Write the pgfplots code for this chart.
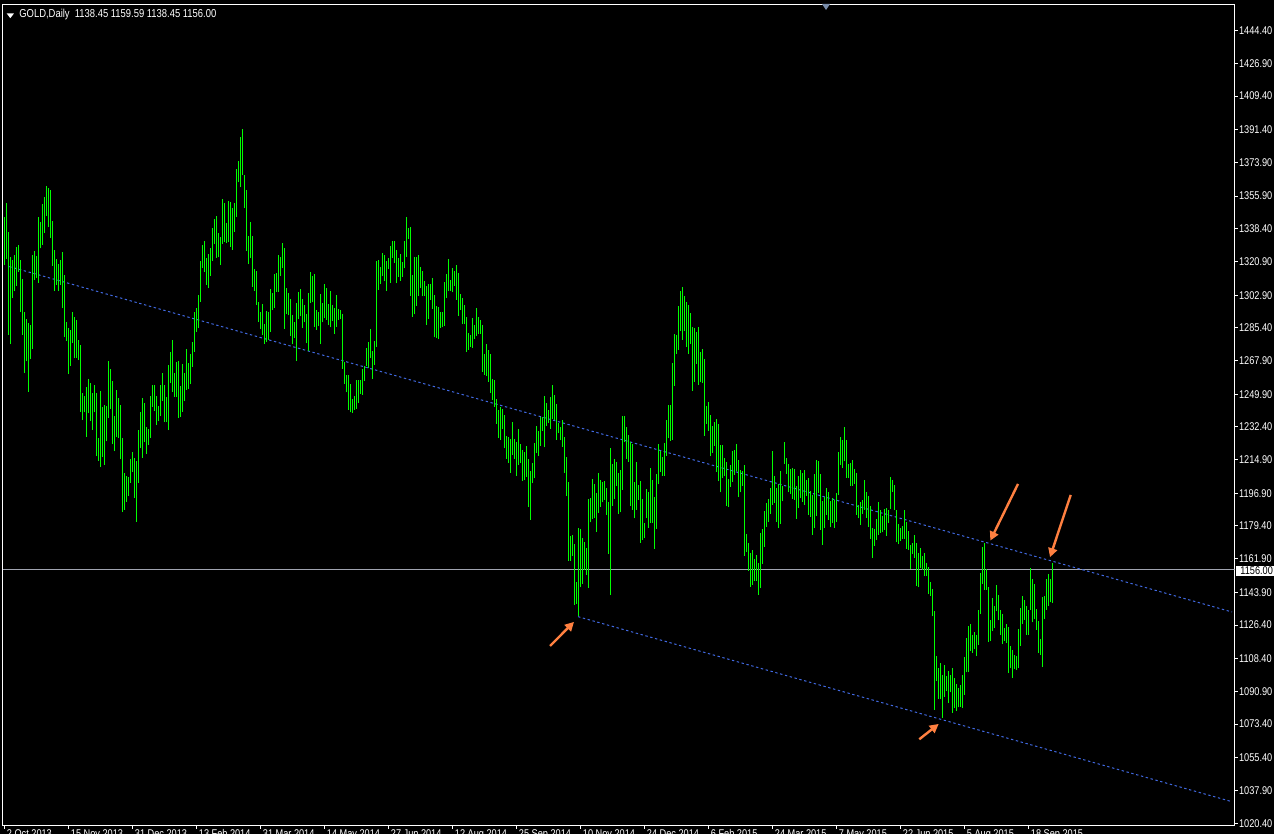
\documentclass[border=0pt]{standalone}
\usepackage{pgfplots}
\usepackage{pgfplotstable}
\pgfplotsset{compat=1.18}
\usetikzlibrary{arrows.meta}
\usepackage{fontspec}
\newfontfamily\mt{Liberation Sans}[FakeStretch=0.82]
\newcommand{\mtf}{\mt\fontsize{5.6pt}{6pt}\selectfont}
\newcommand{\mttf}{\mt\fontsize{5.75pt}{6pt}\selectfont}
\definecolor{mtgreen}{RGB}{0,255,0}
\definecolor{mtblue}{RGB}{65,105,225}
\definecolor{mtorange}{RGB}{255,128,64}
\definecolor{mtgray}{RGB}{160,164,176}
\definecolor{mtmark}{RGB}{120,140,170}

% daily bars: index, high, low
\pgfplotstableread{
i h l
0 1344.5 1319.2
1 1352.2 1322.2
2 1336.8 1281.6
3 1323.5 1276.7
4 1321.9 1301.3
5 1324.5 1305.1
6 1328.8 1307.9
7 1329.7 1315.4
8 1321.7 1294.0
9 1311.5 1281.6
10 1294.0 1261.2
11 1290.1 1267.5
12 1288.0 1251.2
13 1286.9 1268.7
14 1324.5 1274.1
15 1326.5 1311.0
16 1324.0 1311.9
17 1344.9 1309.5
18 1342.2 1327.9
19 1351.6 1329.7
20 1355.4 1336.1
21 1361.4 1345.4
22 1360.2 1339.5
23 1359.1 1333.6
24 1342.7 1318.6
25 1327.0 1305.1
26 1322.2 1308.5
27 1319.5 1305.1
28 1321.9 1308.5
29 1326.0 1296.0
30 1313.7 1280.5
31 1288.5 1278.3
32 1285.3 1260.7
33 1284.2 1265.0
34 1293.9 1277.3
35 1291.2 1269.1
36 1289.6 1269.2
37 1278.9 1268.2
38 1276.2 1240.4
39 1250.5 1236.1
40 1248.9 1240.2
41 1253.7 1227.2
42 1258.0 1239.8
43 1255.9 1235.5
44 1250.5 1230.9
45 1254.8 1240.2
46 1250.5 1216.8
47 1226.5 1214.3
48 1251.6 1211.1
49 1243.0 1216.3
50 1244.1 1212.2
51 1243.6 1224.7
52 1267.6 1237.2
53 1263.4 1242.0
54 1256.9 1223.2
55 1238.2 1219.5
56 1252.1 1227.0
57 1247.9 1226.6
58 1244.1 1215.2
59 1226.5 1187.0
60 1207.7 1188.1
61 1206.1 1192.4
62 1205.6 1195.6
63 1215.2 1202.6
64 1219.0 1208.4
65 1215.8 1194.4
66 1214.1 1181.7
67 1230.7 1202.6
68 1240.4 1221.1
69 1247.9 1215.8
70 1245.2 1224.3
71 1232.3 1217.9
72 1231.3 1222.9
73 1248.9 1226.5
74 1254.8 1243.0
75 1254.8 1240.9
76 1248.9 1233.4
77 1243.6 1235.5
78 1254.8 1238.2
79 1261.2 1246.2
80 1254.8 1235.0
81 1248.6 1235.0
82 1265.5 1230.7
83 1272.5 1255.9
84 1278.9 1251.2
85 1261.2 1248.4
86 1267.1 1248.4
87 1267.6 1237.3
88 1254.4 1237.9
89 1266.0 1240.4
90 1261.2 1246.2
91 1274.1 1252.1
92 1266.6 1252.7
93 1271.4 1255.3
94 1277.8 1264.4
95 1293.9 1272.6
96 1296.0 1283.2
97 1303.0 1285.3
98 1321.1 1299.4
99 1329.7 1317.4
100 1331.8 1315.3
101 1322.7 1308.3
102 1324.9 1306.7
103 1328.1 1313.3
104 1338.8 1321.3
105 1343.6 1330.2
106 1345.2 1322.9
107 1336.1 1323.3
108 1333.8 1319.2
109 1354.5 1330.2
110 1352.3 1331.5
111 1341.6 1330.8
112 1353.4 1331.1
113 1352.7 1328.6
114 1349.7 1327.2
115 1352.3 1336.7
116 1370.4 1344.7
117 1374.6 1363.2
118 1387.5 1360.7
119 1391.8 1367.0
120 1367.1 1349.5
121 1359.3 1326.5
122 1334.7 1319.5
123 1342.0 1322.7
124 1334.7 1307.2
125 1316.9 1305.3
126 1315.8 1297.6
127 1299.2 1288.5
128 1293.9 1284.8
129 1298.1 1281.6
130 1287.4 1276.7
131 1294.4 1277.8
132 1294.0 1279.1
133 1306.2 1283.2
134 1304.0 1294.9
135 1314.2 1296.2
136 1314.7 1304.7
137 1324.4 1304.6
138 1323.5 1313.1
139 1330.8 1317.4
140 1328.1 1284.8
141 1306.7 1292.8
142 1304.0 1292.1
143 1300.8 1281.0
144 1292.3 1276.7
145 1288.5 1280.0
146 1298.7 1267.8
147 1304.4 1290.1
148 1306.2 1291.5
149 1300.8 1285.3
150 1297.6 1288.3
151 1292.8 1277.1
152 1304.0 1273.0
153 1315.3 1298.7
154 1312.9 1299.0
155 1314.2 1286.0
156 1294.9 1284.4
157 1293.7 1286.4
158 1303.5 1276.7
159 1298.5 1288.3
160 1308.8 1290.5
161 1306.5 1289.8
162 1298.1 1286.9
163 1305.1 1285.6
164 1297.6 1289.0
165 1295.8 1282.3
166 1302.9 1286.0
167 1295.5 1289.8
168 1294.9 1290.1
169 1292.8 1263.5
170 1266.9 1255.5
171 1260.2 1250.9
172 1260.2 1241.6
173 1255.3 1240.2
174 1247.3 1240.0
175 1248.7 1241.6
176 1257.5 1242.0
177 1257.5 1245.3
178 1257.5 1250.2
179 1263.4 1249.6
180 1265.1 1257.1
181 1274.6 1265.1
182 1277.8 1263.7
183 1284.8 1269.2
184 1273.0 1258.2
185 1278.3 1265.7
186 1321.3 1275.3
187 1321.7 1305.8
188 1317.9 1308.8
189 1325.4 1312.9
190 1324.3 1310.4
191 1321.1 1305.3
192 1322.6 1317.0
193 1329.2 1309.4
194 1331.8 1322.9
195 1331.8 1320.1
196 1327.0 1309.2
197 1322.7 1312.8
198 1324.9 1310.6
199 1320.6 1312.6
200 1331.8 1317.2
201 1344.7 1323.5
202 1338.8 1333.1
203 1339.3 1302.6
204 1313.6 1291.4
205 1323.3 1292.6
206 1323.3 1297.2
207 1324.3 1302.6
208 1317.9 1306.7
209 1315.8 1302.2
210 1310.6 1302.4
211 1307.9 1286.9
212 1308.7 1290.3
213 1309.0 1300.5
214 1312.0 1295.5
215 1302.9 1280.3
216 1296.9 1279.9
217 1296.5 1279.4
218 1294.0 1285.5
219 1294.0 1285.7
220 1309.7 1286.4
221 1314.4 1301.3
222 1322.2 1305.1
223 1311.2 1305.1
224 1317.4 1304.4
225 1316.0 1307.8
226 1319.0 1300.5
227 1314.7 1291.9
228 1303.5 1295.1
229 1301.3 1287.4
230 1297.6 1287.4
231 1291.4 1272.6
232 1282.6 1273.7
233 1281.4 1275.1
234 1290.8 1274.8
235 1286.9 1279.4
236 1296.0 1281.2
237 1291.4 1282.1
238 1289.8 1282.3
239 1286.9 1261.9
240 1271.6 1260.3
241 1276.6 1259.8
242 1273.5 1256.6
243 1271.4 1250.7
244 1258.0 1246.8
245 1257.5 1243.2
246 1247.5 1234.1
247 1241.6 1226.4
248 1243.2 1225.6
249 1242.0 1231.4
250 1238.8 1220.9
251 1227.7 1215.4
252 1227.2 1213.3
253 1225.9 1207.9
254 1235.2 1217.4
255 1225.9 1215.2
256 1224.1 1206.3
257 1231.4 1212.2
258 1223.2 1213.1
259 1220.2 1203.6
260 1219.1 1204.0
261 1222.3 1205.8
262 1215.2 1189.7
263 1209.0 1182.8
264 1213.1 1202.4
265 1224.0 1204.9
266 1232.7 1218.4
267 1230.0 1217.0
268 1237.7 1222.2
269 1237.5 1230.4
270 1249.1 1221.5
271 1245.4 1232.9
272 1241.4 1234.7
273 1248.4 1231.3
274 1255.0 1236.6
275 1249.5 1236.1
276 1244.6 1225.6
277 1234.5 1229.1
278 1232.3 1225.2
279 1236.1 1221.8
280 1226.8 1207.9
281 1216.3 1195.6
282 1202.9 1160.8
283 1174.2 1160.8
284 1174.6 1163.5
285 1169.7 1137.3
286 1149.4 1137.8
287 1178.3 1131.4
288 1177.8 1146.6
289 1173.0 1148.3
290 1171.0 1156.0
291 1167.6 1153.3
292 1194.0 1146.4
293 1194.4 1181.3
294 1204.5 1183.1
295 1201.8 1183.7
296 1197.1 1176.4
297 1207.8 1186.6
298 1204.2 1189.8
299 1202.8 1192.1
300 1203.3 1193.5
301 1199.9 1185.5
302 1192.3 1164.6
303 1221.0 1142.7
304 1212.6 1190.3
305 1215.3 1193.9
306 1213.5 1200.8
307 1207.8 1186.0
308 1209.2 1186.7
309 1238.3 1198.9
310 1238.3 1224.2
311 1232.4 1215.3
312 1228.1 1213.8
313 1224.2 1190.3
314 1223.3 1188.2
315 1202.8 1183.5
316 1213.7 1188.2
317 1201.5 1193.5
318 1203.5 1170.5
319 1193.9 1172.1
320 1181.0 1172.8
321 1199.2 1183.5
322 1197.4 1178.5
323 1210.3 1181.2
324 1204.2 1181.2
325 1194.9 1167.3
326 1207.2 1178.0
327 1223.3 1201.7
328 1219.5 1208.3
329 1216.3 1206.3
330 1223.8 1206.3
331 1236.1 1217.0
332 1244.2 1226.3
333 1244.2 1225.1
334 1266.6 1225.6
335 1282.1 1254.5
336 1281.6 1271.6
337 1297.1 1273.8
338 1305.1 1283.9
339 1307.3 1279.1
340 1302.5 1283.7
341 1299.4 1275.2
342 1297.6 1271.6
343 1293.4 1276.8
344 1285.9 1251.8
345 1285.3 1256.6
346 1283.2 1266.3
347 1285.9 1255.0
348 1272.5 1256.3
349 1274.1 1256.1
350 1268.8 1227.7
351 1243.6 1234.0
352 1245.8 1230.4
353 1238.8 1216.7
354 1232.9 1218.6
355 1235.1 1222.4
356 1236.7 1208.5
357 1234.0 1203.3
358 1222.8 1197.4
359 1222.8 1204.9
360 1215.8 1206.0
361 1213.8 1190.3
362 1204.6 1189.8
363 1212.1 1200.5
364 1219.7 1203.1
365 1220.1 1206.7
366 1223.3 1209.0
367 1214.7 1195.1
368 1209.4 1197.4
369 1209.0 1201.0
370 1212.1 1163.5
371 1175.1 1165.7
372 1170.3 1155.2
373 1165.0 1147.0
374 1166.6 1147.9
375 1161.8 1150.2
376 1163.9 1150.0
377 1159.6 1142.7
378 1175.7 1146.1
379 1177.8 1159.3
380 1187.6 1168.2
381 1191.7 1179.1
382 1193.9 1181.7
383 1199.7 1185.8
384 1219.5 1190.7
385 1206.2 1191.9
386 1199.9 1181.7
387 1202.1 1178.2
388 1208.8 1180.7
389 1200.6 1192.6
390 1224.4 1212.6
391 1215.8 1207.2
392 1212.6 1197.4
393 1209.9 1196.5
394 1210.3 1193.9
395 1209.9 1193.5
396 1200.8 1183.2
397 1206.3 1188.9
398 1209.4 1194.2
399 1207.8 1192.4
400 1209.4 1190.7
401 1204.2 1195.6
402 1204.9 1185.5
403 1198.1 1184.4
404 1196.0 1174.8
405 1207.2 1178.2
406 1214.7 1184.8
407 1214.2 1197.3
408 1207.2 1177.5
409 1193.0 1169.4
410 1194.9 1178.4
411 1199.7 1185.5
412 1197.8 1182.8
413 1193.0 1178.7
414 1194.6 1181.0
415 1193.2 1178.5
416 1197.1 1181.7
417 1219.0 1196.0
418 1226.9 1212.1
419 1225.6 1210.4
420 1232.4 1214.0
421 1225.4 1205.3
422 1212.6 1205.1
423 1213.1 1200.8
424 1214.7 1201.0
425 1209.9 1201.9
426 1208.0 1185.3
427 1190.7 1183.5
428 1192.4 1180.1
429 1193.5 1186.0
430 1204.2 1188.2
431 1197.8 1183.7
432 1195.6 1179.1
433 1190.3 1172.6
434 1178.4 1162.3
435 1177.8 1168.9
436 1183.3 1171.9
437 1192.3 1174.8
438 1188.2 1175.9
439 1184.8 1176.0
440 1188.7 1177.3
441 1189.0 1174.2
442 1188.2 1181.0
443 1205.5 1188.5
444 1204.2 1197.8
445 1201.4 1187.8
446 1187.9 1170.6
447 1180.4 1169.7
448 1178.5 1171.3
449 1179.2 1172.4
450 1187.9 1172.4
451 1181.3 1167.1
452 1176.7 1166.5
453 1169.0 1156.4
454 1170.3 1164.4
455 1174.4 1162.4
456 1170.3 1147.4
457 1164.9 1146.7
458 1167.6 1156.7
459 1163.1 1156.0
460 1164.9 1152.4
461 1159.6 1152.8
462 1157.3 1143.0
463 1149.2 1142.1
464 1145.7 1131.0
465 1133.9 1081.1
466 1109.8 1096.4
467 1103.6 1086.8
468 1106.1 1086.8
469 1099.7 1076.7
470 1105.0 1088.1
471 1099.1 1091.1
472 1101.8 1084.7
473 1099.7 1090.4
474 1103.4 1079.5
475 1098.0 1082.0
476 1094.8 1080.6
477 1092.7 1082.4
478 1094.3 1082.7
479 1099.7 1082.2
480 1109.3 1089.1
481 1119.4 1101.1
482 1125.9 1101.3
483 1126.9 1112.5
484 1121.1 1111.6
485 1122.7 1113.4
486 1121.1 1109.8
487 1134.4 1115.9
488 1154.2 1132.3
489 1168.3 1148.5
490 1170.1 1145.1
491 1156.4 1145.3
492 1146.7 1117.3
493 1129.1 1117.8
494 1140.8 1123.2
495 1136.6 1124.8
496 1147.8 1133.9
497 1142.5 1128.9
498 1134.4 1121.2
499 1132.3 1116.2
500 1124.8 1117.8
501 1126.9 1116.8
502 1125.3 1100.7
503 1115.2 1103.2
504 1113.0 1098.2
505 1110.4 1103.0
506 1109.8 1102.3
507 1124.3 1103.4
508 1135.5 1115.3
509 1141.9 1126.9
510 1139.8 1129.1
511 1136.4 1121.2
512 1134.4 1121.2
513 1156.9 1134.6
514 1151.0 1127.8
515 1148.3 1129.6
516 1135.0 1123.7
517 1128.5 1111.6
518 1118.9 1110.5
519 1141.4 1103.9
520 1141.9 1129.6
521 1151.0 1134.6
522 1153.7 1136.6
523 1151.0 1138.5
524 1159.59 1138.45
}\bars

\begin{document}
\begin{tikzpicture}
\fill[black] (-1.5pt,-4pt) rectangle (635.5pt,413pt);
\begin{axis}[
  at={(0,0)}, anchor=south west,
  scale only axis, width=615.85pt, height=410.65pt,
  xmin=-0.75, xmax=615.1, ymin=1018.9, ymax=1458.3,
  axis line style={white, line width=0.5pt},
  xtick pos=left, ytick pos=right,
  tick align=outside, major tick length=1.5pt,
  tick style={white, line width=0.5pt},
  ytick={1020.4,1037.9,1055.4,1073.4,1090.9,1108.4,1126.4,1143.9,1161.9,1179.4,1196.9,1214.9,1232.4,1249.9,1267.9,1285.4,1302.9,1320.9,1338.4,1355.9,1373.9,1391.4,1409.4,1426.9,1444.4},
  yticklabels={1020.40,1037.90,1055.40,1073.40,1090.90,1108.40,1126.40,1143.90,1161.90,1179.40,1196.90,1214.90,1232.40,1249.90,1267.90,1285.40,1302.90,1320.90,1338.40,1355.90,1373.90,1391.40,1409.40,1426.90,1444.40},
  yticklabel style={font=\mtf, text=white, anchor=west, inner sep=0pt, xshift=0.5pt},
  xtick={0,32,64,96,128,160,192,224,256,288,320,352,384,416,448,480,512},
  xticklabels={2 Oct 2013,15 Nov 2013,31 Dec 2013,13 Feb 2014,31 Mar 2014,14 May 2014,27 Jun 2014,12 Aug 2014,25 Sep 2014,10 Nov 2014,24 Dec 2014,6 Feb 2015,24 Mar 2015,7 May 2015,22 Jun 2015,5 Aug 2015,18 Sep 2015},
  xticklabel style={font=\mtf, text=white, anchor=north west, inner sep=0pt, xshift=1pt},
]
% current price line
\addplot[mtgray, line width=0.5pt, forget plot] coordinates {(-0.75,1156) (615.1,1156)};
% channel lines
\addplot[mtblue, line width=0.5pt, dash pattern=on 1.2pt off 1.3pt, forget plot] coordinates {(2.4,1318.2) (613.75,1133.4)};
\addplot[mtblue, line width=0.5pt, dash pattern=on 1.2pt off 1.3pt, forget plot] coordinates {(286.75,1130.9) (613.75,1031.9)};
% bars (low to high)
\addplot[draw=none, mark=none, forget plot,
  error bars/.cd, y dir=plus, y explicit, error mark=none,
  error bar style={draw=mtgreen, solid, line width=0.5pt}]
  table[x=i, y=l, y error expr=\thisrow{h}-\thisrow{l}] {\bars};
% arrows
\draw[mtorange, line width=1.2pt, -{Triangle[length=4.5pt,width=4.5pt]}] (axis cs:272.75,1115.2) -- (axis cs:284.75,1128.1);
\draw[mtorange, line width=1.2pt, -{Triangle[length=4.5pt,width=4.5pt]}] (axis cs:457.4,1065.3) -- (axis cs:467.1,1073.5);
\draw[mtorange, line width=1.2pt, -{Triangle[length=4.5pt,width=4.5pt]}] (axis cs:506.75,1201.9) -- (axis cs:492.9,1171.6);
\draw[mtorange, line width=1.2pt, -{Triangle[length=4.5pt,width=4.5pt]}] (axis cs:533.1,1196.0) -- (axis cs:522.75,1162.7);
\end{axis}
% title
\fill[white] (1.85pt,406.3pt) -- (5.5pt,406.3pt) -- (3.65pt,403.9pt) -- cycle;
\node[anchor=west, inner sep=0pt, text=white, font=\mttf] at (8pt,405.6pt) {GOLD,Daily\ \ 1138.45 1159.59 1138.45 1156.00};
% chart shift marker
\fill[mtmark] (409.5pt,411pt) -- (413.5pt,411pt) -- (411.5pt,408pt) -- cycle;
% current price label
\fill[white] (616.5pt,124.8pt) rectangle (636pt,130.2pt);
\node[anchor=west, inner sep=0pt, text=black, font=\mtf] at (618.5pt,127.6pt) {1156.00};
\pgfresetboundingbox
\useasboundingbox (-1.5pt,-4pt) rectangle (635.5pt,413pt);
\end{tikzpicture}
\end{document}
